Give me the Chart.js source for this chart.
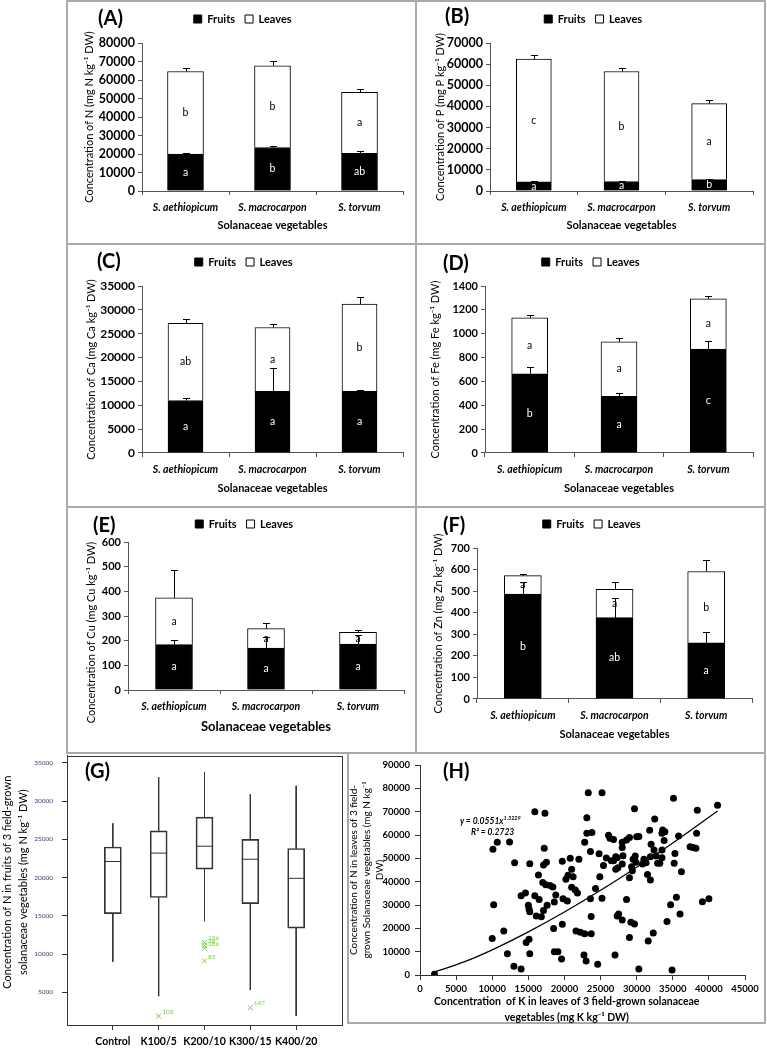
<!DOCTYPE html>
<html>
<head>
<meta charset="utf-8">
<script src="https://cdn.jsdelivr.net/npm/chart.js@4.4.1/dist/chart.umd.min.js"></script>
<style>
  html, body { margin: 0; padding: 0; background: #fff; }
  #page { position: relative; width: 767px; height: 1049px; overflow: hidden; font-family: Lato, "Open Sans", sans-serif; }
  canvas { position: absolute; }
  .rule { position: absolute; background: #a9a9a9; }
  .tag { position: absolute; font-weight: 700; font-size: 20px; line-height: 20px; }
  .eq { position: absolute; font-weight: 700; font-style: italic; font-size: 8.5px; line-height: 10px; white-space: nowrap; }
  .eq sup { font-size: 5.5px; }
</style>
</head>
<body>
<div id="page">
  <div class="rule" style="left:66px;top:0;width:700px;height:2px"></div>
  <div class="rule" style="left:66px;top:243px;width:700px;height:2px"></div>
  <div class="rule" style="left:66px;top:506px;width:700px;height:2px"></div>
  <div class="rule" style="left:66px;top:752px;width:700px;height:2px"></div>
  <div class="rule" style="left:66px;top:0;width:2px;height:754px"></div>
  <div class="rule" style="left:415px;top:0;width:2px;height:754px"></div>
  <div class="rule" style="left:764px;top:0;width:2px;height:1024px"></div>
  <div class="rule" style="left:347px;top:752px;width:2px;height:272px"></div>
  <div class="rule" style="left:347px;top:1022px;width:419px;height:2px"></div>

  <canvas id="cA"></canvas><canvas id="cB"></canvas>
  <canvas id="cC"></canvas><canvas id="cD"></canvas>
  <canvas id="cE"></canvas><canvas id="cF"></canvas>
  <canvas id="cG"></canvas><canvas id="cH"></canvas>

  <div class="tag" style="left:98px;top:7px">(A)</div>
  <div class="tag" style="left:445px;top:5px">(B)</div>
  <div class="tag" style="left:97px;top:250px">(C)</div>
  <div class="tag" style="left:443px;top:252px">(D)</div>
  <div class="tag" style="left:93px;top:514px">(E)</div>
  <div class="tag" style="left:443px;top:514px">(F)</div>
  <div class="tag" style="left:85px;top:760px">(G)</div>
  <div class="tag" style="left:443px;top:760px">(H)</div>
  <div class="eq" style="left:460px;top:813px">y = 0.0551x<sup>1.3229</sup></div>
  <div class="eq" style="left:471px;top:827px">R² = 0.2723</div>
</div>
<script>
Chart.defaults.font.family = "Lato, 'Open Sans', sans-serif";
Chart.defaults.color = '#000';

const species = ['S. aethiopicum', 'S. macrocarpon', 'S. torvum'];

// (A) N
const nFruits = [20000, 23500, 20400];
const nLeaves = [44600, 44200, 32900];
const nFruitsSE = [800, 700, 1100];
const nLeavesSE = [2000, 2600, 2100];
const nFruitsLet = ['a', 'b', 'ab'];
const nLeavesLet = ['b', 'b', 'a'];

// (B) P
const pFruits = [4300, 4500, 5400];
const pLeaves = [58100, 52000, 35900];
const pFruitsSE = [400, 300, 300];
const pLeavesSE = [2000, 1700, 1600];
const pFruitsLet = ['a', 'a', 'b'];
const pLeavesLet = ['c', 'b', 'a'];

// (C) Ca
const caFruits = [11000, 12900, 12900];
const caLeaves = [16200, 13400, 18300];
const caFruitsSE = [500, 4900, 200];
const caLeavesSE = [800, 700, 1400];
const caFruitsLet = ['a', 'a', 'a'];
const caLeavesLet = ['ab', 'a', 'b'];

// (D) Fe
const feFruits = [664, 475, 872];
const feLeaves = [469, 458, 420];
const feFruitsSE = [60, 30, 70];
const feLeavesSE = [28, 34, 22];
const feFruitsLet = ['b', 'a', 'c'];
const feLeavesLet = ['a', 'a', 'a'];

// (E) Cu
const cuFruits = [184, 170, 186];
const cuLeaves = [190, 79, 48];
const cuFruitsSE = [17, 45, 35];
const cuLeavesSE = [113, 23, 8];
const cuFruitsLet = ['a', 'a', 'a'];
const cuLeavesLet = ['a', 'a', 'a'];

// (F) Zn
const znFruits = [486, 377, 260];
const znLeaves = [86, 131, 331];
const znFruitsSE = [55, 90, 51];
const znLeavesSE = [6, 33, 54];
const znFruitsLet = ['b', 'ab', 'a'];
const znLeavesLet = ['a', 'a', 'b'];

// (G) box plot, N in fruits per K dose
const doses = ['Control', 'K100/5', 'K200/10', 'K300/15', 'K400/20'];
const gMin = [9000, 4500, 14300, 5300, 1900];
const gQ1 = [15300, 17400, 21100, 16600, 13400];
const gMed = [22100, 23200, 24100, 22400, 19900];
const gQ3 = [24000, 26100, 27900, 25000, 23800];
const gMax = [27100, 33100, 33800, 30900, 32000];
const gOutPos = [2, 3, 3, 3, 3, 4];
const gOutVal = [1900, 11500, 11100, 10800, 9100, 3000];
const gOutTag = ['103', '156', '38', '186', '85', '147'];
const gTicks = [5000, 10000, 15000, 20000, 25000, 30000, 35000];

// (H) N in leaves vs K in leaves
const hK = [2000, 10100, 10700, 12400, 10200, 10000, 11600, 12100, 13000, 14000, 13100, 15900, 17300, 17200, 15200,
  17100, 17500, 16400, 14000, 14600, 15000, 15100, 15200, 15900, 16500, 16100, 16800, 17100, 17600, 17000,
  17400, 18000, 18400, 18800, 18600, 18500, 14700, 15100, 15200, 18600, 19100, 19600, 19700, 19700, 19800,
  20400, 20200, 20500, 20800, 21000, 21200, 21000, 21500, 21800, 22000, 21600, 22200, 22800, 23700, 22700,
  23000, 24600, 22800, 23100, 23100, 23300, 23800, 23600, 23600, 23700, 24300, 24800, 24900, 25200, 25200,
  25400, 25800, 26100, 26300, 26500, 26800, 26800, 27100, 27100, 27400, 27300, 27000, 27300, 27500, 28000,
  28000, 28100, 28000, 28000, 28600, 28600, 29000, 29000, 29200, 29300, 29500, 29000, 29700, 29700, 29400,
  29800, 29900, 30000, 30300, 30300, 30800, 31000, 31300, 31500, 31600, 31800, 31900, 32000, 31900, 32300,
  32500, 32400, 32700, 32900, 33200, 33500, 33600, 33800, 33500, 33500, 33900, 34200, 34700, 34900, 35100,
  35200, 35300, 35500, 35800, 36000, 36200, 37400, 37800, 38200, 38300, 38400, 39100, 40000, 41200];
const hN = [300, 53900, 56900, 57000, 30100, 15600, 18900, 9100, 3700, 2600, 48100, 70000, 69300, 54300, 47700,
  47100, 48300, 42900, 34000, 35100, 29900, 28300, 27100, 34000, 32400, 25300, 25000, 27600, 29900, 39600,
  38700, 38400, 37700, 34300, 31300, 19900, 13900, 15300, 9100, 10000, 10000, 6900, 21700, 48700, 32700,
  31700, 41000, 42700, 50000, 45300, 42100, 37600, 36400, 35100, 49600, 18900, 18300, 17700, 17700, 8600,
  6000, 4600, 56900, 67400, 60700, 78100, 61100, 52900, 32700, 25100, 37100, 52000, 42100, 78100, 32900,
  46900, 50100, 59900, 58600, 49000, 58100, 49000, 50700, 45300, 46000, 50300, 8600, 25300, 26100, 23600,
  47600, 51100, 56900, 54600, 57900, 32400, 16100, 41700, 22600, 46400, 49600, 58900, 71300, 21900, 44700,
  51000, 48300, 59300, 59400, 2600, 47600, 49600, 48100, 43100, 14600, 62000, 50700, 56000, 40700, 18000,
  66900, 53600, 51000, 47900, 47900, 60700, 62100, 57600, 53600, 50300, 61400, 22900, 30100, 2100, 75700,
  47900, 52100, 33300, 59600, 26100, 44300, 55000, 54600, 54300, 60700, 70600, 31400, 32700, 72700];
// power trend line
const hTrendK = [2000, 6000, 10000, 15000, 20000, 25000, 30000, 35000, 41200];
const hTrendN = [1300, 5500, 10800, 18500, 27000, 36300, 46200, 56600, 70300];

const plain = (v) => String(v);

function place(id, box) {
  const cv = document.getElementById(id);
  cv.width = box.r - box.l;
  cv.height = box.b - box.t;
  cv.style.left = box.l + 'px';
  cv.style.top = box.t + 'px';
  return cv;
}

const errorBars = {
  id: 'errorBars',
  afterDatasetsDraw(chart) {
    const ctx = chart.ctx, y = chart.scales.y;
    ctx.save();
    ctx.strokeStyle = '#000';
    ctx.lineWidth = 1;
    chart.data.datasets.forEach((ds, i) => {
      if (!ds.se) return;
      chart.getDatasetMeta(i).data.forEach((bar, j) => {
        let top = 0;
        for (let k = 0; k <= i; k++) top += chart.data.datasets[k].data[j];
        const cap = Math.round(y.getPixelForValue(top + ds.se[j])) + 0.5;
        const x = Math.round(bar.x) + 0.5;
        ctx.beginPath();
        ctx.moveTo(x, bar.y);
        ctx.lineTo(x, cap);
        ctx.moveTo(x - 3.5, cap);
        ctx.lineTo(x + 3.5, cap);
        ctx.stroke();
      });
    });
    ctx.restore();
  }
};

const segLetters = {
  id: 'segLetters',
  afterDatasetsDraw(chart) {
    const ctx = chart.ctx;
    ctx.save();
    ctx.font = "10.5px Lato, 'Open Sans', sans-serif";
    ctx.textAlign = 'center';
    ctx.textBaseline = 'middle';
    chart.data.datasets.forEach((ds, i) => {
      if (!ds.letters) return;
      ctx.fillStyle = ds.letterColor;
      chart.getDatasetMeta(i).data.forEach((bar, j) => {
        ctx.fillText(ds.letters[j], bar.x, (bar.y + bar.base) / 2);
      });
    });
    ctx.restore();
  }
};

function stackedPanel(id, p) {
  const box = p.box, area = p.area;
  const cv = place(id, box);
  const legFont = 11, legPad = 10;
  const legH = legFont + legPad + 10;
  const pt = p.legendY - box.t - (legPad + legFont / 2);
  const spacer = (area.t - box.t) - pt - legH;
  const yLH = 11 * 1.2;
  const pl = p.yTitleX - box.l - yLH / 2;
  const xLH = p.xTitleSize * 1.2;
  const pb = box.b - p.xTitleY - xLH / 2;
  new Chart(cv, {
    type: 'bar',
    data: {
      labels: species,
      datasets: [
        { label: 'Fruits', data: p.fruits, se: p.fruitsSE, letters: p.fruitsLet, letterColor: '#fff',
          backgroundColor: '#000', borderColor: '#000', borderWidth: 1, barThickness: p.barW },
        { label: 'Leaves', data: p.leaves, se: p.leavesSE, letters: p.leavesLet, letterColor: '#000',
          backgroundColor: '#fff', borderColor: '#000', borderWidth: 1, barThickness: p.barW }
      ]
    },
    options: {
      responsive: false,
      animation: false,
      layout: { padding: { left: pl, top: pt, right: box.r - area.r, bottom: pb } },
      plugins: {
        legend: {
          labels: { boxWidth: 8, boxHeight: 8, padding: legPad, color: '#000',
                    font: { size: legFont, weight: 'bold' } }
        },
        subtitle: { display: true, text: '', weight: 10, font: { size: 1, lineHeight: 1 },
                    padding: { top: Math.max(spacer - 1, 0), bottom: 0 } },
        tooltip: { enabled: false }
      },
      scales: {
        x: {
          stacked: true,
          afterFit: (s) => { s.height = box.b - pb - area.b; },
          grid: { offset: true, drawOnChartArea: false, tickLength: 4, color: '#555' },
          border: { color: '#555' },
          ticks: { font: { size: 10.5, weight: 'bold', style: 'italic' }, color: '#000', padding: 6,
                   maxRotation: 0, autoSkip: false },
          title: { display: true, text: 'Solanaceae vegetables', color: '#000', padding: 0,
                   font: { size: p.xTitleSize, weight: 'bold' } }
        },
        y: {
          stacked: true,
          min: 0,
          max: p.yMax,
          afterFit: (s) => { s.width = area.l - box.l - pl; },
          ticks: { stepSize: p.yStep, callback: plain, font: { size: p.yTickSize, weight: 'bold' },
                   color: '#000', padding: 3 },
          grid: { drawOnChartArea: false, tickLength: 4, color: '#555' },
          border: { color: '#555' },
          title: { display: true, text: p.yTitle, color: '#000', padding: 0, font: { size: 11 } }
        }
      }
    },
    plugins: [segLetters, errorBars]
  });
}

stackedPanel('cA', {
  box: { l: 67, t: 0, r: 416, b: 244 }, area: { l: 142, t: 43, r: 403, b: 191 },
  legendY: 19, yTitleX: 89, xTitleY: 225, xTitleSize: 11, yTickSize: 12.5, barW: 36,
  yMax: 80000, yStep: 10000, yTitle: 'Concentration of N (mg N kg⁻¹ DW)',
  fruits: nFruits, leaves: nLeaves, fruitsSE: nFruitsSE, leavesSE: nLeavesSE,
  fruitsLet: nFruitsLet, leavesLet: nLeavesLet
});
stackedPanel('cB', {
  box: { l: 416, t: 0, r: 765, b: 244 }, area: { l: 490, t: 43, r: 753, b: 191 },
  legendY: 19, yTitleX: 440, xTitleY: 225, xTitleSize: 11, yTickSize: 12.5, barW: 35,
  yMax: 70000, yStep: 10000, yTitle: 'Concentration of P (mg P kg⁻¹ DW)',
  fruits: pFruits, leaves: pLeaves, fruitsSE: pFruitsSE, leavesSE: pLeavesSE,
  fruitsLet: pFruitsLet, leavesLet: pLeavesLet
});
stackedPanel('cC', {
  box: { l: 67, t: 244, r: 416, b: 507 }, area: { l: 142, t: 286, r: 403, b: 453 },
  legendY: 262, yTitleX: 91, xTitleY: 488, xTitleSize: 11, yTickSize: 12, barW: 35,
  yMax: 35000, yStep: 5000, yTitle: 'Concentration of Ca (mg Ca kg⁻¹ DW)',
  fruits: caFruits, leaves: caLeaves, fruitsSE: caFruitsSE, leavesSE: caLeavesSE,
  fruitsLet: caFruitsLet, leavesLet: caLeavesLet
});
stackedPanel('cD', {
  box: { l: 416, t: 244, r: 765, b: 507 }, area: { l: 485, t: 286, r: 753, b: 453 },
  legendY: 262, yTitleX: 435, xTitleY: 488, xTitleSize: 11, yTickSize: 11, barW: 36,
  yMax: 1400, yStep: 200, yTitle: 'Concentration of Fe (mg Fe kg⁻¹ DW)',
  fruits: feFruits, leaves: feLeaves, fruitsSE: feFruitsSE, leavesSE: feLeavesSE,
  fruitsLet: feFruitsLet, leavesLet: feLeavesLet
});
stackedPanel('cE', {
  box: { l: 67, t: 507, r: 416, b: 753 }, area: { l: 128, t: 542, r: 404, b: 690 },
  legendY: 524, yTitleX: 91, xTitleY: 727, xTitleSize: 13, yTickSize: 11, barW: 37,
  yMax: 600, yStep: 100, yTitle: 'Concentration of Cu (mg Cu kg⁻¹ DW)\u2003\u2003\u2003\u2003',
  fruits: cuFruits, leaves: cuLeaves, fruitsSE: cuFruitsSE, leavesSE: cuLeavesSE,
  fruitsLet: cuFruitsLet, leavesLet: cuLeavesLet
});
stackedPanel('cF', {
  box: { l: 416, t: 507, r: 765, b: 753 }, area: { l: 477, t: 548, r: 752, b: 699 },
  legendY: 524, yTitleX: 438, xTitleY: 734, xTitleSize: 11, yTickSize: 11, barW: 37,
  yMax: 700, yStep: 100, yTitle: 'Concentration of Zn (mg Zn kg⁻¹ DW)',
  fruits: znFruits, leaves: znLeaves, fruitsSE: znFruitsSE, leavesSE: znLeavesSE,
  fruitsLet: znFruitsLet, leavesLet: znLeavesLet
});

// (G) box plot
const frame = {
  id: 'frame',
  afterDraw(chart) {
    const a = chart.chartArea, ctx = chart.ctx;
    ctx.save();
    ctx.strokeStyle = '#333';
    ctx.lineWidth = 1;
    ctx.strokeRect(Math.round(a.left) + 0.5, Math.round(a.top) + 0.5,
                   Math.round(a.right - a.left), Math.round(a.bottom - a.top));
    ctx.restore();
  }
};
const pointTags = {
  id: 'pointTags',
  afterDatasetsDraw(chart) {
    const ctx = chart.ctx;
    ctx.save();
    ctx.font = "6.5px Lato, 'Open Sans', sans-serif";
    ctx.textAlign = 'left';
    ctx.textBaseline = 'middle';
    chart.data.datasets.forEach((ds, i) => {
      if (!ds.tags) return;
      ctx.fillStyle = ds.borderColor;
      chart.getDatasetMeta(i).data.forEach((pt, j) => {
        ctx.fillText(ds.tags[j], pt.x + 3.5, pt.y - 4.5);
      });
    });
    ctx.restore();
  }
};

const boxHalf = 0.185;
const whiskerPts = [], medianPts = [];
doses.forEach((d, i) => {
  const x = i + 1;
  whiskerPts.push({ x, y: gMax[i] }, { x, y: gQ3[i] }, { x, y: null },
                  { x, y: gQ1[i] }, { x, y: gMin[i] }, { x, y: null });
  medianPts.push({ x: x - boxHalf, y: gMed[i] }, { x: x + boxHalf, y: gMed[i] }, { x, y: null });
});

new Chart(place('cG', { l: 0, t: 743, r: 347, b: 1049 }), {
  type: 'bar',
  data: {
    datasets: [
      { type: 'bar', data: doses.map((d, i) => ({ x: i + 1, y: [gQ1[i], gQ3[i]] })),
        backgroundColor: 'rgba(255,255,255,0)', borderColor: '#333', borderWidth: 1,
        borderSkipped: false, barThickness: 17 },
      { type: 'line', data: whiskerPts, borderColor: '#333', borderWidth: 1, pointRadius: 0, spanGaps: false },
      { type: 'line', data: medianPts, borderColor: '#333', borderWidth: 1, pointRadius: 0, spanGaps: false },
      { type: 'scatter', data: gOutPos.map((x, i) => ({ x, y: gOutVal[i] })), tags: gOutTag,
        pointStyle: 'crossRot', pointRadius: 3.5, borderColor: '#78cc4c', borderWidth: 1 }
    ]
  },
  options: {
    responsive: false,
    animation: false,
    layout: { padding: { left: 0, top: 10, right: 2, bottom: 0 } },
    plugins: { legend: { display: false }, tooltip: { enabled: false } },
    scales: {
      x: {
        type: 'linear', min: 0, max: 6, offset: false,
        afterFit: (s) => { s.height = 24; },
        afterBuildTicks: (s) => { s.ticks = doses.map((d, i) => ({ value: i + 1 })); },
        ticks: { callback: (v) => doses[v - 1], font: { size: 10.5, weight: 'bold' }, color: '#000',
                 padding: 5, maxRotation: 0, autoSkip: false },
        grid: { offset: false, drawOnChartArea: false, tickLength: 5, color: '#333' },
        border: { color: '#333' }
      },
      y: {
        min: 733, max: 35905,
        afterFit: (s) => { s.width = 67; },
        afterBuildTicks: (s) => { s.ticks = gTicks.map((v) => ({ value: v })); },
        ticks: { callback: plain, font: { size: 6.5 }, color: '#3c3c6e', padding: 9 },
        grid: { drawOnChartArea: false, tickLength: 5, color: '#333' },
        border: { color: '#333' },
        title: { display: true, padding: 0, color: '#000', font: { size: 11, lineHeight: 1.4 },
                 text: ['\u2002\u2002\u2002Concentration of N in fruits of 3 field-grown',
                        '\u2002\u2002\u2002solanaceae vegetables (mg N kg⁻¹ DW)'] }
      }
    }
  },
  plugins: [frame, pointTags]
});

// (H) scatter with power trend
new Chart(place('cH', { l: 347, t: 753, r: 765, b: 1025 }), {
  type: 'scatter',
  data: {
    datasets: [
      { data: hK.map((k, i) => ({ x: k, y: hN[i] })), pointRadius: 3.5, backgroundColor: '#000',
        borderWidth: 0 },
      { type: 'line', data: hTrendK.map((k, i) => ({ x: k, y: hTrendN[i] })), borderColor: '#000',
        borderWidth: 1.3, pointRadius: 0, cubicInterpolationMode: 'monotone' }
    ]
  },
  options: {
    responsive: false,
    animation: false,
    layout: { padding: { left: 0, top: 12, right: 20, bottom: 0 } },
    plugins: { legend: { display: false }, tooltip: { enabled: false } },
    scales: {
      x: {
        min: 0, max: 45000,
        afterFit: (s) => { s.height = 50; },
        ticks: { stepSize: 5000, callback: plain, font: { size: 9.5, weight: 'bold' }, color: '#000',
                 padding: 3, maxRotation: 0, autoSkip: false },
        grid: { drawOnChartArea: false, tickLength: 5, color: '#333' },
        border: { color: '#333' },
        title: { display: true, padding: 0, color: '#000', font: { size: 10.5, weight: 'bold', lineHeight: 1.5 },
                 text: ['Concentration  of K in leaves of 3 field-grown solanaceae\u2003\u2003\u2003\u2003',
                        'vegetables (mg K kg⁻¹ DW)\u2003\u2003\u2003\u2003'] }
      },
      y: {
        min: 0, max: 90000,
        afterFit: (s) => { s.width = 73; },
        ticks: { stepSize: 10000, callback: plain, font: { size: 9.5, weight: 'bold' }, color: '#000', padding: 5 },
        grid: { drawOnChartArea: false, tickLength: 5, color: '#333' },
        border: { color: '#333' },
        title: { display: true, padding: 0, color: '#000', font: { size: 10, lineHeight: 1.3 },
                 text: ['Concentration of N in leaves of 3 field-',
                        'grown Solanaceae vegetables (mg N kg⁻¹', 'DW)'] }
      }
    }
  }
});
</script>
</body>
</html>
